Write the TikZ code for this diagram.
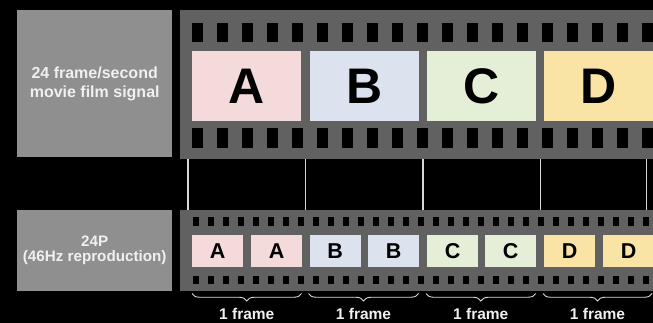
\documentclass[tikz,border=0pt]{standalone}
\usepackage{fontspec}
\setmainfont{Liberation Sans}
\usetikzlibrary{decorations.pathreplacing}
\definecolor{filmgray}{HTML}{616161}
\definecolor{lblgray}{HTML}{8F8F8F}
\definecolor{lbltext}{HTML}{F0F0F0}
\definecolor{fa}{HTML}{F4DADA}
\definecolor{fb}{HTML}{DCE3EF}
\definecolor{fc}{HTML}{E5EED6}
\definecolor{fd}{HTML}{F9E4A6}
\definecolor{connline}{HTML}{D8D8D8}
\begin{document}
\begin{tikzpicture}[x=1pt,y=-1pt,
  labelbox/.style={fill=lblgray, inner sep=0pt, anchor=north west, minimum width=155pt,
     text=lbltext, align=center},
  filmstrip/.style={fill=filmgray, inner sep=0pt, anchor=north west, minimum width=473pt},
  bigframe/.style={inner sep=0pt, anchor=north west, minimum width=109pt, minimum height=69.7pt,
     font=\fontsize{50}{50}\selectfont\bfseries},
  smallframe/.style={inner sep=0pt, anchor=north west, minimum width=51pt, minimum height=31.7pt,
     font=\fontsize{21.5}{21.5}\selectfont\bfseries},
  conn/.style={draw=connline, line width=1.1pt},
  bracestyle/.style={draw=connline, line width=0.9pt, decorate,
     decoration={brace, mirror, amplitude=7.5pt}},
  framelbl/.style={anchor=base, text=lbltext, inner sep=0pt, font=\fontsize{15.5}{18}\selectfont\bfseries}
]
\fill[black] (0,0) rectangle (653,323);
\useasboundingbox (0,0) rectangle (653,323);

% label boxes
\node[labelbox, minimum height=147pt, font=\fontsize{16}{19.4}\selectfont\bfseries] (lab1) at (17,10)
  {24 frame/second\\movie film signal};
\node[labelbox, minimum height=80.7pt, font=\fontsize{15.2}{15.3}\selectfont\bfseries] (lab2) at (17,210)
  {24P\\(46Hz reproduction)};

% film strips
\node[filmstrip, minimum height=148.5pt] (film1) at (180,10) {};
\node[filmstrip, minimum height=80.7pt] (film2) at (180,210) {};

% perforations, top strip
\foreach \k in {0,...,18} {
  \fill[black] (192+25*\k,22.7) rectangle ++(10.7,19.6);
  \fill[black] (192+25*\k,128.3) rectangle ++(10.7,19.4);
}
% perforations, bottom strip
\foreach \k in {0,...,30} {
  \fill[black] (192.5+15*\k,217.5) rectangle ++(6.8,8);
  \fill[black] (192.5+15*\k,276) rectangle ++(6.8,8);
}

% big frames
\node[bigframe, fill=fa] (fA) at (192,51) {A};
\node[bigframe, fill=fb] (fB) at (309.5,51) {B};
\node[bigframe, fill=fc] (fC) at (427,51) {C};
\node[bigframe, fill=fd] (fD) at (544,51) {D};

% small frames
\node[smallframe, fill=fa] (sA1) at (192,235) {A};
\node[smallframe, fill=fa] (sA2) at (251,235) {A};
\node[smallframe, fill=fb] (sB1) at (309.5,235) {B};
\node[smallframe, fill=fb] (sB2) at (368,235) {B};
\node[smallframe, fill=fc] (sC1) at (427,235) {C};
\node[smallframe, fill=fc] (sC2) at (485,235) {C};
\node[smallframe, fill=fd] (sD1) at (544,235) {D};
\node[smallframe, fill=fd] (sD2) at (603,235) {D};

% connecting lines
\foreach \xx in {188,305.3,423,540.3,646.7} {
  \draw[conn] (\xx,0 |- film1.south) -- (\xx,0 |- film2.north);
}

% braces
\draw[bracestyle] (192,293.5) -- (301.5,293.5);
\draw[bracestyle] (308.5,293.5) -- (418.5,293.5);
\draw[bracestyle] (426,293.5) -- (535.7,293.5);
\draw[bracestyle] (543,293.5) -- (652,293.5);

% brace labels
\node[framelbl] (t1) at (246.8,319.5) {1 frame};
\node[framelbl] (t2) at (363.5,319.5) {1 frame};
\node[framelbl] (t3) at (480.8,319.5) {1 frame};
\node[framelbl] (t4) at (597.5,319.5) {1 frame};
\end{tikzpicture}
\end{document}
